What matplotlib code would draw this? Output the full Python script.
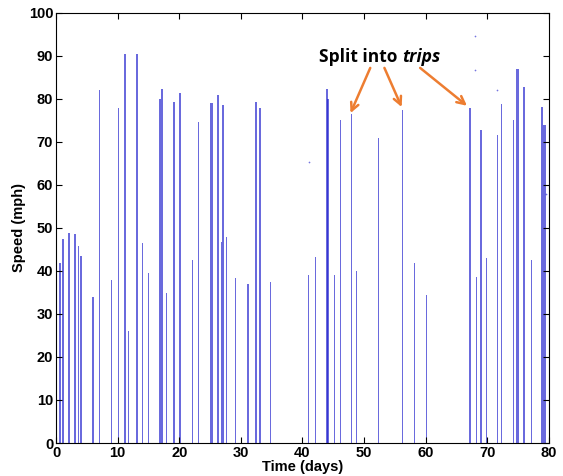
import matplotlib.pyplot as plt
import numpy as np

plt.rcParams["font.family"] = ["Liberation Sans", "DejaVu Sans"]
plt.rcParams["font.weight"] = "bold"

# 每段行程：开始时间 (days)、持续时间 (days)、最高速度 (mph)
trip_day = [0.5, 1.0, 2.0, 2.9, 3.5, 3.9, 5.8, 7.0, 9.0, 10.0, 11.0, 11.7,
            13.0, 13.9, 15.0, 16.7, 17.1, 17.9, 19.0, 20.0, 20.7, 22.0, 23.0,
            25.0, 26.1, 26.7, 27.0, 27.6, 29.1, 31.0, 32.3, 33.0, 34.0, 34.7,
            40.9, 42.0, 43.8, 44.0, 45.1, 46.1, 47.8, 48.7, 52.2, 56.1, 58.1,
            60.0, 67.1, 68.2, 68.8, 69.8, 71.6, 72.2, 74.2, 74.7, 75.8, 77.1,
            78.7, 79.0]
trip_len = [0.3, 0.3, 0.3, 0.3, 0.2, 0.3, 0.3, 0.15, 0.15, 0.3, 0.3, 0.15,
            0.35, 0.25, 0.15, 0.3, 0.2, 0.15, 0.3, 0.35, 0.15, 0.2, 0.25,
            0.45, 0.3, 0.2, 0.2, 0.15, 0.15, 0.25, 0.3, 0.3, 0.15, 0.15,
            0.2, 0.25, 0.3, 0.3, 0.15, 0.2, 0.25, 0.15, 0.15, 0.15, 0.15,
            0.15, 0.2, 0.15, 0.4, 0.15, 0.2, 0.25, 0.2, 0.45, 0.25, 0.2,
            0.4, 0.5]
trip_speed = [41.8, 47.4, 48.8, 48.5, 45.7, 43.5, 34.0, 82.0, 38.0, 77.8,
              90.5, 26.0, 90.5, 46.4, 39.5, 80.0, 82.4, 34.8, 79.3, 81.3,
              41.0, 42.6, 74.7, 79.0, 81.0, 46.8, 78.6, 48.0, 38.3, 37.0,
              79.3, 77.8, 25.0, 37.5, 39.0, 43.3, 82.4, 80.0, 39.0, 75.2,
              76.6, 39.9, 71.0, 77.4, 41.8, 34.4, 77.8, 38.7, 72.8, 43.0,
              71.7, 78.8, 75.0, 87.0, 82.8, 42.6, 78.2, 74.0]

# 零散的孤立点
stray_day = [41.0, 68.0, 68.0, 71.5, 79.5]
stray_speed = [65.4, 94.6, 86.7, 82.0, 58.0]

fig = plt.figure(figsize=(5.63, 4.76), dpi=100)
ax = fig.add_axes([0.0995, 0.0693, 0.8755, 0.9037])

ax.bar(trip_day, trip_speed, width=trip_len, align="edge",
       color="#1a1acc", alpha=0.65, linewidth=0)
ax.scatter(stray_day, stray_speed, s=1.5, color="#1a1acc", alpha=0.6,
           linewidths=0)

ax.set_xlim(0, 80)
ax.set_ylim(0, 100)
ax.set_xticks(np.arange(0, 81, 10))
ax.set_yticks(np.arange(0, 101, 10))
ax.tick_params(direction="in", top=True, right=True, labelsize=10.5,
               length=4, pad=2)
for lab in ax.get_xticklabels() + ax.get_yticklabels():
    lab.set_fontweight("bold")
ax.set_xlabel("Time (days)", fontsize=10.5, fontweight="bold", labelpad=0)
ax.set_ylabel("Speed (mph)", fontsize=10.5, fontweight="bold", labelpad=2)

# 注释：分割为行程
note_font = ["Open Sans", "DejaVu Sans"]
ax.text(56.2, 89.8, "Split into ", ha="right", va="center", fontsize=12.5,
        fontweight="bold", family=note_font)
ax.text(56.2, 89.8, "trips", ha="left", va="center", fontsize=12.5,
        fontweight="bold", style="italic", family=note_font)
arrow_kw = dict(arrowstyle="->", color="#ed7d31", lw=1.8,
                mutation_scale=14, shrinkA=0, shrinkB=0)
ax.annotate("", xy=(47.8, 76.7), xytext=(51.0, 87.2), arrowprops=arrow_kw)
ax.annotate("", xy=(56.1, 78.1), xytext=(53.3, 87.2), arrowprops=arrow_kw)
ax.annotate("", xy=(66.7, 78.4), xytext=(59.1, 87.2), arrowprops=arrow_kw)

fig.savefig("out.png", dpi=100)
